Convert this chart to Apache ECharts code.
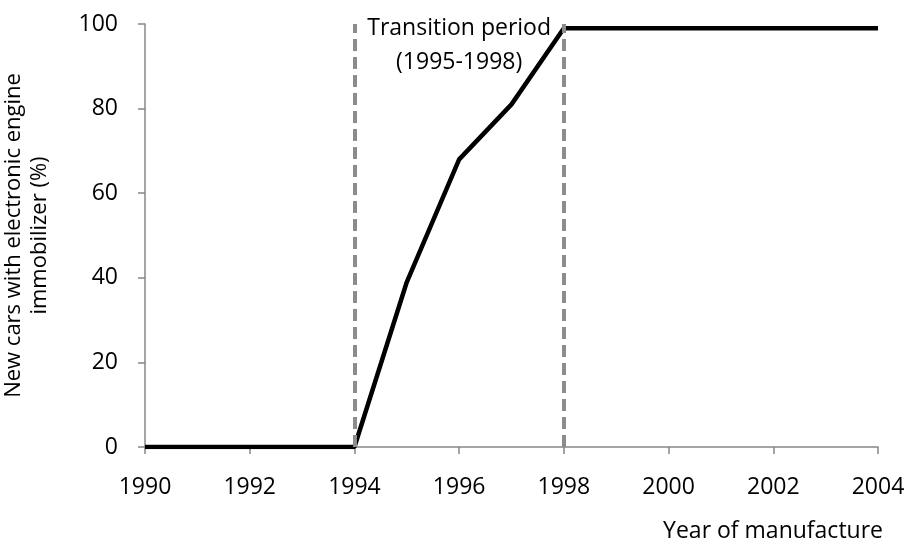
<!DOCTYPE html>
<html><head><meta charset="utf-8">
<script src="https://cdn.jsdelivr.net/npm/echarts@6/dist/echarts.min.js"></script>
<style>html,body{margin:0;padding:0;background:#fff}#c{width:907px;height:548px}</style>
</head><body><div id="c"></div>
<script>
const years = [1990,1991,1992,1993,1994,1995,1996,1997,1998,1999,2000,2001,2002,2003,2004];
const share = [0,0,0,0,0,39,68,81,99,99,99,99,99,99,99];
const transitionBounds = [1994, 1998];
const annotation = {x: 1996, y: 95, text: 'Transition period\n(1995-1998)'};
const xTitle = 'Year of manufacture';
const yTitle = 'New cars with electronic engine\nimmobilizer (%)';

const FONT = 'Open Sans';
const chart = echarts.init(document.getElementById('c'));
chart.setOption({
  animation: false,
  grid: {left: 145, right: 29, top: 24, bottom: 101, outerBoundsMode: 'none', containLabel: false},
  xAxis: {
    type: 'value', min: 1990, max: 2004, interval: 2,
    splitLine: {show: false},
    axisLine: {lineStyle: {color: '#878787', width: 1.5}},
    axisTick: {show: true, length: 7, lineStyle: {color: '#878787', width: 1.5}},
    axisLabel: {color: '#000', fontFamily: FONT, fontSize: 23, margin: 29, formatter: v => String(v)},
    name: xTitle, nameLocation: 'end', nameGap: 0,
    nameTextStyle: {color: '#000', fontFamily: FONT, fontSize: 23, align: 'right', verticalAlign: 'top', padding: [73, -5, 0, 0]}
  },
  yAxis: {
    type: 'value', min: 0, max: 100, interval: 20,
    splitLine: {show: false},
    axisLine: {show: true, lineStyle: {color: '#878787', width: 1.5}},
    axisTick: {show: true, length: 7, lineStyle: {color: '#878787', width: 1.5}},
    axisLabel: {color: '#000', fontFamily: FONT, fontSize: 23, margin: 27},
    name: yTitle, nameLocation: 'middle', nameGap: 92, nameRotate: 90,
    nameTextStyle: {color: '#000', fontFamily: FONT, fontSize: 22, lineHeight: 26, width: 600, overflow: 'none'}
  },
  series: [{
    type: 'line',
    data: years.map((y, i) => [y, share[i]]),
    showSymbol: false,
    lineStyle: {color: '#000', width: 4.5},
    z: 3,
    markLine: {
      silent: true, symbol: 'none',
      label: {show: false},
      lineStyle: {color: '#8c8c8c', width: 4, type: [12, 6]},
      data: [
        [{coord: [transitionBounds[0], 0]}, {coord: [transitionBounds[0], 100]}],
        [{coord: [transitionBounds[1], 0]}, {coord: [transitionBounds[1], 100]}]
      ]
    },
    markPoint: {
      silent: true, symbol: 'circle', symbolSize: 0,
      data: [{coord: [annotation.x, annotation.y]}],
      label: {show: true, position: 'inside', formatter: annotation.text, color: '#000',
        fontFamily: FONT, fontSize: 23, lineHeight: 34, align: 'center'}
    }
  }]
});
</script></body></html>
